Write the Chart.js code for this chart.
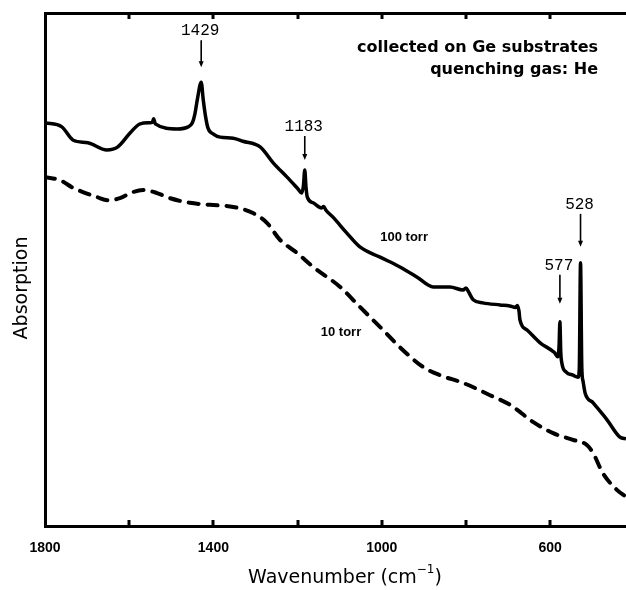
<!DOCTYPE html>
<html>
<head>
<meta charset="utf-8">
<script src="https://cdn.jsdelivr.net/npm/chart.js@4.4.0/dist/chart.umd.min.js"></script>
<style>
  html, body { margin: 0; padding: 0; background: #fff; overflow: hidden; }
  #wrap { width: 626px; height: 590px; }
</style>
</head>
<body>
<div id="wrap"><canvas id="spectrum" width="626" height="590"></canvas></div>
<script>
// --- IR SPECTRA OF DEPOSITS ON Ge (quenching gas He) ---

// 100 torr run: wavenumber (cm-1) and absorption (arb. units)
const wavenumbers100 = [1800, 1760, 1733, 1698, 1653, 1627, 1598, 1574, 1551, 1545, 1542, 1538,
  1486, 1460, 1450, 1444, 1438, 1429, 1424, 1419, 1413, 1400, 1384, 1353, 1330, 1289, 1258,
  1225, 1199, 1190, 1186, 1183, 1180, 1177, 1163, 1143, 1138, 1133, 1116, 1083, 1052, 1004,
  957, 916, 878, 838, 807, 800, 795, 783, 760, 719, 696, 682, 678, 674, 672, 655, 624, 590,
  582, 579, 577, 575, 572, 562, 546, 534, 531, 528, 525, 522, 517, 498, 465, 434, 420];
const absorption100 = [78.6, 77.8, 75.2, 74.7, 73.3, 73.9, 76.6, 78.4, 78.6, 78.7, 79.4, 78.4,
  77.4, 77.8, 78.6, 80.3, 83.2, 86.5, 83.0, 80.0, 77.6, 76.4, 75.8, 75.6, 75.0, 73.9, 70.8,
  68.0, 65.7, 64.9, 66.5, 69.4, 66.0, 64.1, 63.0, 62.0, 62.3, 61.6, 60.2, 57.1, 54.4, 52.4,
  50.5, 48.5, 46.6, 46.6, 46.0, 46.4, 45.8, 44.1, 43.5, 43.1, 42.9, 42.6, 43.0, 41.8, 40.2,
  38.2, 35.7, 33.8, 33.0, 35.0, 39.8, 34.0, 31.6, 30.0, 29.4, 29.0, 30.5, 51.3, 31.0, 28.2,
  25.9, 24.0, 20.7, 17.3, 17.0];

// 10 torr run
const wavenumbers10 = [1800, 1764, 1733, 1710, 1676, 1650, 1622, 1591, 1567, 1534, 1503, 1456,
  1408, 1353, 1306, 1273, 1242, 1201, 1163, 1099, 1052, 997, 950, 902, 862, 807, 743, 695,
  641, 593, 546, 513, 498, 475, 441, 420];
const absorption10 = [68.0, 67.4, 65.9, 65.1, 64.1, 63.5, 63.9, 65.1, 65.5, 64.9, 63.9, 63.0,
  62.6, 62.2, 61.0, 59.1, 55.8, 53.2, 50.5, 46.6, 42.7, 38.2, 34.3, 31.0, 29.4, 27.9, 25.5,
  23.6, 20.3, 18.1, 16.8, 15.8, 14.2, 10.3, 7.0, 5.7];

// axis ticks
const xTickValues = [1800, 1600, 1400, 1200, 1000, 800, 600];
const xTickLabels = ['1800', '', '1400', '', '1000', '', '600'];

// marked bands
const peakPositions = [1429, 1183, 577, 528];
const peakLabels = ['1429', '1183', '577', '528'];

const toPoints = (xs, ys) => xs.map((x, i) => ({ x: x, y: ys[i] }));

// Draws frame ticks, band labels with arrows and the free text
const annotationsPlugin = {
  id: 'annotations',
  afterDraw(chart) {
    const { ctx, chartArea: area, scales: { x, y } } = chart;
    ctx.save();
    ctx.strokeStyle = '#000';
    ctx.fillStyle = '#000';

    // inward tick marks, top and bottom
    ctx.lineWidth = 3;
    xTickValues.slice(1).forEach(v => {
      const px = Math.round(x.getPixelForValue(v));
      ctx.beginPath();
      ctx.moveTo(px, area.bottom);
      ctx.lineTo(px, area.bottom - 6);
      ctx.moveTo(px, area.top);
      ctx.lineTo(px, area.top + 6);
      ctx.stroke();
    });

    // band labels + arrows
    const labelRise = [51, 43, 56, 58];
    const arrowGap = [15, 10, 18, 16];
    ctx.font = '16px "Liberation Mono", "DejaVu Sans Mono", monospace';
    ctx.textAlign = 'center';
    ctx.textBaseline = 'middle';
    peakPositions.forEach((wn, i) => {
      const idx = wavenumbers100.indexOf(wn);
      const px = x.getPixelForValue(wn);
      const py = y.getPixelForValue(absorption100[idx]);
      const ly = py - labelRise[i];
      ctx.fillText(peakLabels[i], px - 1, ly);
      const y0 = ly + 9;
      const y1 = py - arrowGap[i];
      ctx.lineWidth = 1.6;
      ctx.beginPath();
      ctx.moveTo(px, y0);
      ctx.lineTo(px, y1 - 4);
      ctx.stroke();
      ctx.beginPath();
      ctx.moveTo(px - 2.5, y1 - 6);
      ctx.lineTo(px + 2.5, y1 - 6);
      ctx.lineTo(px, y1);
      ctx.closePath();
      ctx.fill();
    });

    // curve labels
    ctx.font = 'bold 13px "Liberation Sans", Arial, sans-serif';
    ctx.fillText('100 torr', x.getPixelForValue(947), y.getPixelForValue(56.3));
    ctx.fillText('10 torr', x.getPixelForValue(1097), y.getPixelForValue(37.8));

    // sample note
    ctx.font = 'bold 16px "DejaVu Sans", sans-serif';
    ctx.textAlign = 'right';
    ctx.fillText('collected on Ge substrates', area.right - 28, 48);
    ctx.fillText('quenching gas: He', area.right - 28, 70);

    // y title
    ctx.save();
    ctx.translate(22, 288);
    ctx.rotate(-Math.PI / 2);
    ctx.textAlign = 'center';
    ctx.font = '19px "DejaVu Sans", sans-serif';
    ctx.fillText('Absorption', 0, 0);
    ctx.restore();

    // x title with superscript
    const main = 'Wavenumber (cm';
    const sup = '\u22121';
    ctx.font = '19px "DejaVu Sans", sans-serif';
    const wMain = ctx.measureText(main).width;
    const wClose = ctx.measureText(')').width;
    ctx.font = '12px "DejaVu Sans", sans-serif';
    const wSup = ctx.measureText(sup).width;
    const left = 345 - (wMain + wSup + wClose) / 2;
    ctx.textAlign = 'left';
    ctx.font = '19px "DejaVu Sans", sans-serif';
    ctx.fillText(main, left, 578);
    ctx.fillText(')', left + wMain + wSup, 578);
    ctx.font = '12px "DejaVu Sans", sans-serif';
    ctx.fillText(sup, left + wMain, 570);

    ctx.restore();
  }
};

const ctx = document.getElementById('spectrum').getContext('2d');

new Chart(ctx, {
  type: 'line',
  data: {
    datasets: [
      {
        label: '100 torr',
        data: toPoints(wavenumbers100, absorption100),
        borderColor: '#000',
        borderWidth: 3.5,
        pointRadius: 0,
        cubicInterpolationMode: 'monotone',
        fill: false
      },
      {
        label: '10 torr',
        data: toPoints(wavenumbers10, absorption10),
        borderColor: '#000',
        borderWidth: 4,
        borderDash: [10, 9],
        borderCapStyle: 'round',
        pointRadius: 0,
        cubicInterpolationMode: 'monotone',
        fill: false
      }
    ]
  },
  options: {
    responsive: false,
    animation: false,
    layout: { padding: { top: 13, right: 0, bottom: 0, left: 0 } },
    plugins: {
      legend: { display: false },
      tooltip: { enabled: false }
    },
    scales: {
      x: {
        type: 'linear',
        position: 'bottom',
        reverse: true,
        min: 420,
        max: 1800,
        afterBuildTicks: s => { s.ticks = xTickValues.map(v => ({ value: v })); },
        afterFit: s => { s.height = 64; },
        ticks: {
          autoSkip: false,
          maxRotation: 0,
          padding: 14,
          color: '#000',
          font: { family: '"Liberation Sans", Arial, sans-serif', size: 14, weight: 'bold' },
          callback: v => xTickLabels[xTickValues.indexOf(v)] || ''
        },
        grid: { display: false, drawTicks: false },
        border: { display: true, color: '#000', width: 3 }
      },
      xTop: {
        type: 'linear',
        position: 'top',
        reverse: true,
        min: 420,
        max: 1800,
        afterFit: s => { s.height = 0; },
        ticks: { display: false },
        grid: { display: false, drawTicks: false },
        border: { display: true, color: '#000', width: 3 }
      },
      y: {
        min: 0,
        max: 100,
        afterFit: s => { s.width = 45; },
        ticks: { display: false },
        grid: { display: false, drawTicks: false },
        border: { display: true, color: '#000', width: 3 }
      }
    }
  },
  plugins: [annotationsPlugin]
});
</script>
</body>
</html>
